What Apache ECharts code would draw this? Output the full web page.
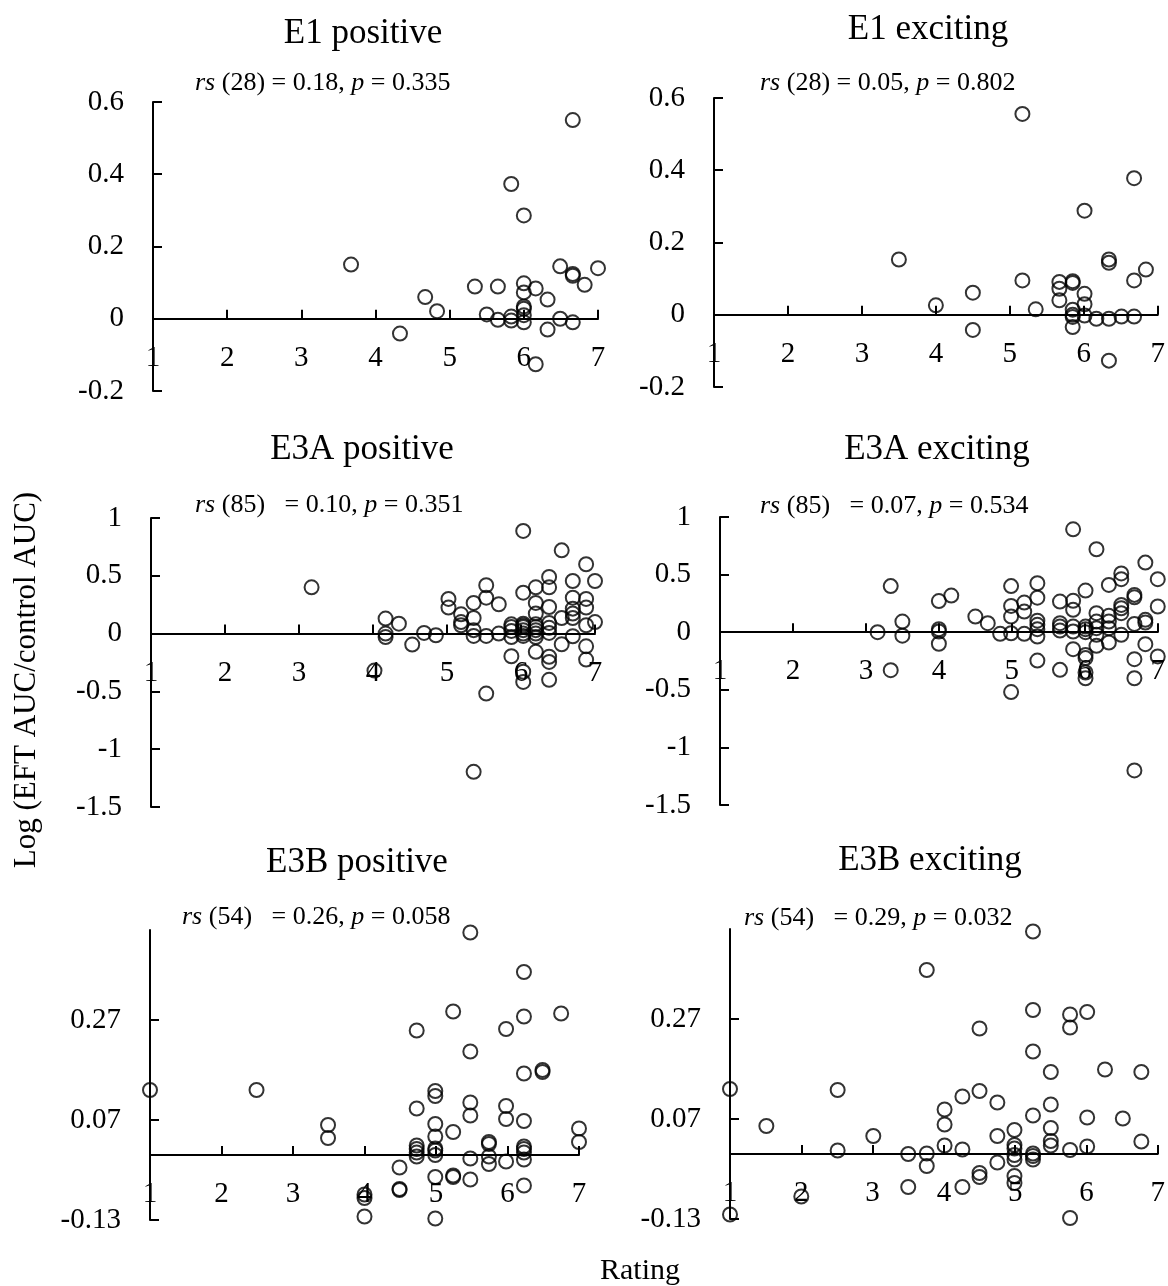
<!DOCTYPE html>
<html>
<head>
<meta charset="utf-8">
<script src="https://cdn.jsdelivr.net/npm/echarts@6/dist/echarts.min.js"></script>
<style>
  html, body { margin: 0; padding: 0; background: #fff; }
  #chart { width: 1168px; height: 1286px; }
</style>
</head>
<body>
<div id="chart"></div>
<script>
// Rating (x) vs log(EFT AUC / control AUC) (y), one array per panel
const e1Positive = [
  [3.67, 0.15], [4.67, 0.06], [4.83, 0.021], [4.33, -0.041], [5.34, 0.089],
  [5.5, 0.012], [5.65, 0.089], [5.65, -0.003], [5.83, 0.373], [5.83, 0.006],
  [5.83, -0.005], [6.0, 0.286], [6.0, 0.098], [6.0, 0.073], [6.0, 0.034],
  [6.0, 0.028], [6.0, -0.01], [6.0, 0.01], [6.16, 0.084], [6.16, -0.126],
  [6.32, 0.053], [6.32, -0.03], [6.49, 0.145], [6.49, 0.0], [6.66, 0.55],
  [6.66, 0.124], [6.66, 0.119], [6.66, -0.01], [6.82, 0.094], [7.0, 0.14]
];
const e1Exciting = [
  [3.5, 0.153], [4.0, 0.026], [4.5, 0.061], [4.5, -0.042], [5.17, 0.556],
  [5.17, 0.095], [5.35, 0.015], [5.67, 0.091], [5.67, 0.072], [5.67, 0.04],
  [5.85, 0.093], [5.85, 0.088], [5.85, 0.014], [5.85, -0.006], [5.85, -0.034],
  [6.01, 0.288], [6.01, 0.058], [6.01, 0.029], [6.01, -0.002], [6.17, -0.011],
  [6.34, 0.153], [6.34, 0.144], [6.34, -0.011], [6.34, -0.127], [6.51, -0.005],
  [6.68, 0.378], [6.68, 0.095], [6.68, -0.005], [6.84, 0.125], [5.85, 0.0]
];
const e3aPositive = [
  [3.17, 0.4], [4.17, 0.13], [4.17, 0.0], [4.17, -0.03], [4.35, 0.086],
  [4.02, -0.32], [4.53, -0.095], [4.69, 0.006], [4.85, -0.014], [5.02, 0.3],
  [5.02, 0.225], [5.19, 0.167], [5.19, 0.072], [5.36, 0.265], [5.36, 0.135],
  [5.36, 0.03], [5.36, -0.02], [5.36, -1.196], [5.53, 0.418], [5.53, 0.311],
  [5.53, -0.02], [5.53, -0.519], [5.7, 0.254], [5.7, 0.0], [5.87, 0.058],
  [5.87, 0.023], [5.87, -0.03], [5.87, -0.196], [5.87, 0.08], [6.03, 0.888],
  [6.03, 0.354], [6.03, 0.086], [6.03, 0.058], [6.03, 0.03], [6.03, -0.02],
  [6.03, -0.33], [6.03, -0.418], [6.03, 0.07], [6.2, 0.4], [6.2, 0.265],
  [6.2, 0.173], [6.2, 0.058], [6.2, 0.0], [6.2, -0.03], [6.2, -0.158],
  [6.2, 0.03], [6.38, 0.49], [6.38, 0.4], [6.38, 0.23], [6.38, 0.092],
  [6.38, 0.006], [6.38, -0.2], [6.38, -0.245], [6.38, -0.4], [6.55, 0.72],
  [6.55, 0.135], [6.55, -0.092], [6.7, 0.455], [6.7, 0.311], [6.7, 0.216],
  [6.7, 0.173], [6.7, 0.135], [6.7, -0.023], [6.88, 0.6], [6.88, 0.3],
  [6.88, 0.225], [6.88, 0.072], [6.88, -0.11], [6.88, -0.225], [7.0, 0.455],
  [7.0, 0.1], [5.19, 0.1], [6.03, 0.0], [6.2, 0.08], [6.38, 0.05]
];
const e3aExciting = [
  [3.16, 0.0], [3.34, 0.4], [3.34, -0.33], [3.5, 0.092], [3.5, -0.03],
  [4.0, 0.27], [4.0, 0.026], [4.0, 0.006], [4.0, -0.1], [4.17, 0.318],
  [4.5, 0.136], [4.67, 0.078], [4.84, -0.014], [4.99, 0.4], [4.99, 0.228],
  [4.99, 0.136], [4.99, -0.009], [4.99, -0.52], [5.17, 0.257], [5.17, 0.179],
  [5.17, -0.014], [5.35, 0.425], [5.35, 0.3], [5.35, 0.1], [5.35, 0.064],
  [5.35, 0.026], [5.35, -0.038], [5.35, -0.246], [5.66, 0.266], [5.66, 0.078],
  [5.66, 0.049], [5.66, 0.014], [5.66, -0.327], [5.84, 0.893], [5.84, 0.272],
  [5.84, 0.194], [5.84, 0.049], [5.84, 0.006], [5.84, -0.147], [6.01, 0.361],
  [6.01, 0.049], [6.01, 0.026], [6.01, 0.0], [6.01, -0.197], [6.01, -0.225],
  [6.01, -0.35], [6.01, -0.4], [6.16, 0.72], [6.16, 0.165], [6.16, 0.092],
  [6.16, 0.035], [6.16, -0.023], [6.16, -0.118], [6.33, 0.41], [6.33, 0.142],
  [6.33, 0.092], [6.33, 0.035], [6.33, -0.09], [6.5, 0.51], [6.5, 0.46],
  [6.5, 0.237], [6.5, 0.208], [6.5, 0.165], [6.5, -0.023], [6.68, 0.324],
  [6.68, 0.303], [6.68, 0.072], [6.68, -0.234], [6.68, -0.4], [6.68, -1.2],
  [6.83, 0.604], [6.83, 0.107], [6.83, 0.084], [6.83, -0.104], [7.0, 0.46],
  [7.0, 0.223], [7.0, -0.21]
];
const e3bPositive = [
  [1.0, 0.13], [2.49, 0.13], [3.49, 0.06], [3.49, 0.034], [4.0, -0.079],
  [4.0, -0.086], [4.0, -0.123], [4.49, -0.025], [4.49, -0.068], [4.49, -0.07],
  [4.73, 0.249], [4.73, 0.093], [4.73, 0.019], [4.73, 0.012], [4.73, 0.005],
  [4.73, -0.003], [4.99, 0.128], [4.99, 0.118], [4.99, 0.062], [4.99, 0.037],
  [4.99, 0.013], [4.99, 0.009], [4.99, 0.0], [4.99, -0.044], [4.99, -0.127],
  [5.24, 0.287], [5.24, 0.046], [5.24, -0.041], [5.24, -0.044], [5.48, 0.445],
  [5.48, 0.207], [5.48, 0.105], [5.48, 0.079], [5.48, -0.007], [5.48, -0.049],
  [5.74, 0.026], [5.74, 0.022], [5.74, -0.003], [5.74, -0.018], [5.98, 0.252],
  [5.98, 0.098], [5.98, 0.072], [5.98, -0.013], [6.23, 0.366], [6.23, 0.277],
  [6.23, 0.163], [6.23, 0.068], [6.23, 0.017], [6.23, 0.012], [6.23, 0.005],
  [6.23, -0.009], [6.23, -0.061], [6.49, 0.17], [6.49, 0.166], [6.75, 0.283],
  [7.0, 0.053], [7.0, 0.026]
];
const e3bExciting = [
  [1.0, 0.13], [1.0, -0.121], [1.51, 0.056], [2.0, -0.085], [2.51, 0.128],
  [2.51, 0.007], [3.01, 0.036], [3.5, 0.0], [3.5, -0.066], [3.76, 0.368],
  [3.76, 0.001], [3.76, -0.024], [4.01, 0.089], [4.01, 0.059], [4.01, 0.017],
  [4.26, 0.115], [4.26, 0.009], [4.26, -0.066], [4.5, 0.251], [4.5, 0.126],
  [4.5, -0.038], [4.5, -0.046], [4.75, 0.103], [4.75, 0.036], [4.75, -0.017],
  [4.99, 0.048], [4.99, 0.018], [4.99, 0.011], [4.99, -0.002], [4.99, -0.011],
  [4.99, -0.044], [4.99, -0.058], [5.25, 0.445], [5.25, 0.288], [5.25, 0.205],
  [5.25, 0.077], [5.25, 0.001], [5.25, -0.004], [5.25, -0.011], [5.5, 0.164],
  [5.5, 0.099], [5.5, 0.052], [5.5, 0.026], [5.5, 0.017], [5.77, 0.279],
  [5.77, 0.253], [5.77, 0.008], [5.77, -0.128], [6.01, 0.284], [6.01, 0.073],
  [6.01, 0.015], [6.26, 0.169], [6.51, 0.071], [6.77, 0.164], [6.77, 0.025]
];

const panelTitles = ['E1 positive', 'E1 exciting', 'E3A positive', 'E3A exciting', 'E3B positive', 'E3B exciting'];
const statsDf = ['28', '28', '85', '85', '54', '54'];
const statsRs = ['0.18', '0.05', '0.10', '0.07', '0.26', '0.29'];
const statsP = ['0.335', '0.802', '0.351', '0.534', '0.058', '0.032'];
const xTicks = [1, 2, 3, 4, 5, 6, 7];
const e1YTicks = [-0.2, 0, 0.2, 0.4, 0.6];
const e3aYTicks = [-1.5, -1, -0.5, 0, 0.5, 1];
const e3bYTicks = [-0.13, 0.07, 0.27];

const seriesData = [e1Positive, e1Exciting, e3aPositive, e3aExciting, e3bPositive, e3bExciting];

const FONT = "'Liberation Serif', 'Times New Roman', serif";

// plot areas, one per panel
const grids = [
  { left: 153, top: 102, width: 445, height: 289 },
  { left: 714, top: 98, width: 444, height: 289 },
  { left: 151, top: 518, width: 444, height: 289 },
  { left: 720, top: 517, width: 444, height: 288 },
  { left: 150, top: 930, width: 429, height: 290 },
  { left: 730, top: 929, width: 428, height: 290 }
];
// rating labels sit just under the zero line, so they are pulled up from the plot's lower edge
const xLabelMargin = [-47, -47, -148, -148, -40, -40];
const titlePos = [[363, 34], [928, 30], [362, 450], [937, 450], [357, 863], [930, 861]];
const statsPos = [[195, 83], [760, 83], [195, 505], [760, 506], [182, 917], [744, 918]];
const statsGap = ['', '', '  ', '  ', '  ', '  '];

const yRanges = [
  { ticks: e1YTicks }, { ticks: e1YTicks },
  { ticks: e3aYTicks }, { ticks: e3aYTicks },
  { ticks: e3bYTicks, max: 0.45 }, { ticks: e3bYTicks, max: 0.45 }
];

const lineStyle = { color: '#000', width: 2 };

const xAxes = grids.map((g, i) => ({
  type: 'value', gridIndex: i,
  min: xTicks[0], max: xTicks[xTicks.length - 1], interval: 1,
  axisLine: { onZero: true, lineStyle },
  axisTick: { inside: true, length: 9, lineStyle },
  axisLabel: { fontFamily: FONT, fontSize: 29, color: '#000', margin: xLabelMargin[i] },
  splitLine: { show: false }
}));

const yAxes = yRanges.map((r, i) => {
  const t = r.ticks;
  const base = {
    type: 'value', gridIndex: i,
    axisLine: { show: true, onZero: false, lineStyle },
    axisTick: { show: true, inside: true, length: 9, lineStyle },
    axisLabel: { fontFamily: FONT, fontSize: 29, color: '#000', margin: 29 },
    splitLine: { show: false }
  };
  if (r.max !== undefined) {
    base.min = t[0];
    base.max = r.max;
    base.axisTick.customValues = t;
    base.axisLabel.customValues = t;
    base.axisLabel.formatter = v => String(Math.round(v * 100) / 100);
  } else {
    base.min = t[0];
    base.max = t[t.length - 1];
    base.interval = t[1] - t[0];
  }
  return base;
});

const series = seriesData.map((d, i) => ({
  type: 'scatter', xAxisIndex: i, yAxisIndex: i,
  data: d, symbol: 'circle', symbolSize: 14, clip: false,
  itemStyle: { color: 'rgba(0,0,0,0)', borderColor: '#000', borderWidth: 2 },
  emphasis: { disabled: true },
  silent: true
}));

const graphics = [];
panelTitles.forEach((t, i) => {
  graphics.push({
    type: 'text', x: titlePos[i][0], y: titlePos[i][1],
    style: { text: t, font: '35px ' + FONT, fill: '#000', align: 'center', verticalAlign: 'middle' }
  });
  graphics.push({
    type: 'text', x: statsPos[i][0], y: statsPos[i][1],
    style: {
      text: '{i|rs} (' + statsDf[i] + ')' + statsGap[i] + ' = ' + statsRs[i] + ', {i|p} = ' + statsP[i],
      fontFamily: FONT, fontSize: 26, fill: '#000', align: 'left', verticalAlign: 'middle',
      rich: { i: { fontFamily: FONT, fontSize: 26, fontStyle: 'italic', fill: '#000' } }
    }
  });
});
graphics.push({
  type: 'text', x: 27, y: 680, rotation: Math.PI / 2,
  style: { text: 'Log (EFT AUC/control AUC)', font: '31px ' + FONT, fill: '#000', align: 'center', verticalAlign: 'middle' }
});
graphics.push({
  type: 'text', x: 640, y: 1271,
  style: { text: 'Rating', font: '30px ' + FONT, fill: '#000', align: 'center', verticalAlign: 'middle' }
});

const chart = echarts.init(document.getElementById('chart'), null, { renderer: 'canvas' });
chart.setOption({
  animation: false,
  backgroundColor: '#fff',
  grid: grids.map(g => Object.assign({ containLabel: false }, g)),
  xAxis: xAxes,
  yAxis: yAxes,
  series: series,
  graphic: graphics
});
</script>
</body>
</html>
